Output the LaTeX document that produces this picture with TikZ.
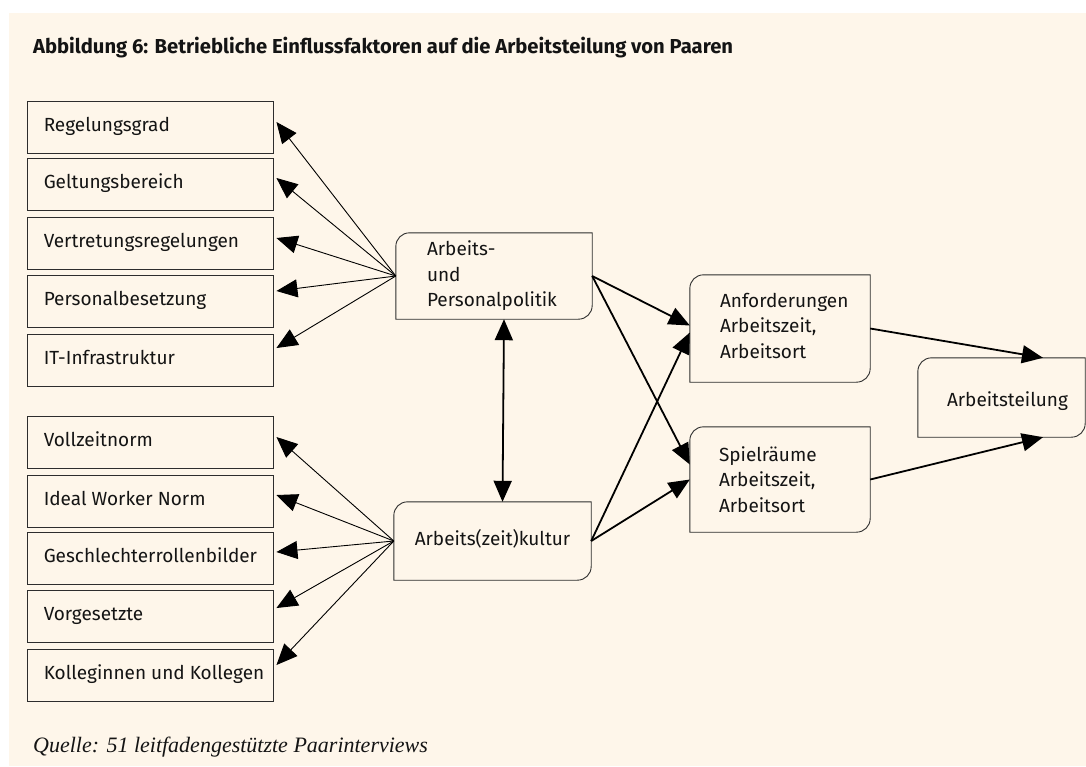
\documentclass[tikz,border=0pt]{standalone}
\usepackage{fontspec}
\setmainfont{Fira Sans}
\newfontfamily\quellefont{Liberation Serif}
\usetikzlibrary{arrows.meta,calc}
\definecolor{bgcream}{RGB}{254,246,234}
\definecolor{linegray}{RGB}{45,45,45}
\definecolor{textblack}{RGB}{20,20,20}
\newcommand\softbox[1]{%
  \draw[boxline] (#1.north east) -- ([yshift=14pt]#1.south east)
    .. controls ([yshift=6pt]#1.south east) and ([xshift=-6pt]#1.south east) .. ([xshift=-14pt]#1.south east)
    -- (#1.south west) -- ([yshift=-14pt]#1.north west)
    .. controls ([yshift=-6pt]#1.north west) and ([xshift=6pt]#1.north west) .. ([xshift=14pt]#1.north west) -- cycle;}
\begin{document}
\begin{tikzpicture}[x=1pt,y=-1pt,
  bodyfont/.style={font=\fontsize{19}{25.5}\selectfont},
  boxline/.style={draw=linegray, line width=0.9pt},
  sqbox/.style={boxline, fill=bgcream, inner sep=0pt, minimum width=246pt, minimum height=52pt},
  softshape/.style={inner sep=0pt},
  lefttext/.style={bodyfont, text=textblack, anchor=west, inner sep=0pt, text height=13pt, text depth=4pt},
  multitext/.style={bodyfont, text=textblack, anchor=west, inner sep=0pt, align=left},
  fanarrow/.style={line width=0.9pt, draw=black, -{Triangle[length=21pt,width=18pt]}},
  mainarrow/.style={line width=1.8pt, draw=black, -{Triangle[length=21pt,width=18pt]}},
  botharrow/.style={line width=1.8pt, draw=black, {Triangle[length=21pt,width=18pt]}-{Triangle[length=21pt,width=18pt]}}
]
\useasboundingbox (0,0) rectangle (1086,766);
\fill[white] (0,0) rectangle (1086,766);
\fill[bgcream] (9,13) rectangle (1086,766);

\node[anchor=base west, inner sep=0pt, text=textblack, font=\fontsize{20.2}{24}\selectfont\bfseries] (title) at (33,53)
  {Abbildung 6: Betriebliche Einflussfaktoren auf die Arbeitsteilung von Paaren};

% left boxes, upper group
\node[sqbox] (r1) at (150,127) {};
\node[sqbox] (r2) at (150,184) {};
\node[sqbox] (r3) at (150,243) {};
\node[sqbox] (r4) at (150,301) {};
\node[sqbox] (r5) at (150,360) {};
\node[lefttext] (r1t) at ([xshift=17pt]r1.west) {Regelungsgrad};
\node[lefttext] (r2t) at ([xshift=17pt]r2.west) {Geltungsbereich};
\node[lefttext] (r3t) at ([xshift=17pt]r3.west) {Vertretungsregelungen};
\node[lefttext] (r4t) at ([xshift=17pt]r4.west) {Personalbesetzung};
\node[lefttext] (r5t) at ([xshift=17pt]r5.west) {IT-Infrastruktur};

% left boxes, lower group
\node[sqbox] (l1) at (150,442) {};
\node[sqbox] (l2) at (150,501) {};
\node[sqbox] (l3) at (150,558) {};
\node[sqbox] (l4) at (150,616) {};
\node[sqbox] (l5) at (150,675) {};
\node[lefttext] (l1t) at ([xshift=17pt]l1.west) {Vollzeitnorm};
\node[lefttext] (l2t) at ([xshift=17pt]l2.west) {Ideal Worker Norm};
\node[lefttext] (l3t) at ([xshift=17pt]l3.west) {Geschlechterrollenbilder};
\node[lefttext] (l4t) at ([xshift=17pt]l4.west) {Vorgesetzte};
\node[lefttext] (l5t) at ([xshift=17pt]l5.west) {Kolleginnen und Kollegen};

% rounded boxes
\node[softshape, minimum width=196pt, minimum height=86pt] (ap) at (494,276) {};
\node[softshape, minimum width=197pt, minimum height=78pt] (ku) at (492.5,541) {};
\node[softshape, minimum width=180pt, minimum height=107pt] (an) at (780,328.5) {};
\node[softshape, minimum width=180pt, minimum height=105pt] (sp) at (780,479.5) {};
\node[softshape, minimum width=167pt, minimum height=79pt] (at) at (1001.5,397.5) {};
\softbox{ap}
\softbox{ku}
\softbox{an}
\softbox{sp}
\softbox{at}

\node[multitext] (apt) at ([xshift=31pt]ap.west) {Arbeits-\\und\\Personalpolitik};
\node[lefttext, anchor=center] (kut) at (ku.center) {Arbeits(zeit)kultur};
\node[multitext] (ant) at ([xshift=30pt,yshift=3pt]an.west) {Anforderungen\\Arbeitszeit,\\Arbeitsort};
\node[multitext] (spt) at ([xshift=29pt]sp.west) {Spielräume\\Arbeitszeit,\\Arbeitsort};
\node[lefttext] (att) at ([xshift=29pt,yshift=-4pt]at.west) {Arbeitsteilung};

% fan arrows
\draw[fanarrow] (ap.west) -- ([xshift=3pt,yshift=5pt]r1.east);
\draw[fanarrow] (ap.west) -- ([xshift=3pt,yshift=6pt]r2.east);
\draw[fanarrow] (ap.west) -- ([xshift=3pt,yshift=5pt]r3.east);
\draw[fanarrow] (ap.west) -- ([xshift=3pt,yshift=10pt]r4.east);
\draw[fanarrow] (ap.west) -- ([xshift=3pt,yshift=12pt]r5.east);
\draw[fanarrow] (ku.west) -- ([xshift=3pt,yshift=5pt]l1.east);
\draw[fanarrow] (ku.west) -- ([xshift=3pt,yshift=6pt]l2.east);
\draw[fanarrow] (ku.west) -- ([xshift=3pt,yshift=6pt]l3.east);
\draw[fanarrow] (ku.west) -- ([xshift=3pt,yshift=8pt]l4.east);
\draw[fanarrow] (ku.west) -- ([xshift=3pt,yshift=10pt]l5.east);

% main arrows
\draw[botharrow] ([xshift=10pt]ap.south) -- ([xshift=10pt]ku.north);
\draw[mainarrow] (ap.east) -- ([yshift=3pt]an.west);
\draw[mainarrow] (ap.east) -- ([yshift=15pt]sp.west);
\draw[mainarrow] (ku.east) -- ([yshift=-4pt]an.west);
\draw[mainarrow] (ku.east) -- (sp.west);
\draw[mainarrow] (an.east) -- ([xshift=41.5pt]at.north);
\draw[mainarrow] (sp.east) -- ([xshift=41.5pt]at.south);

\node[anchor=base west, inner sep=0pt, text=textblack, font=\quellefont\itshape\fontsize{22}{26}\selectfont] (quelle) at (33,752)
  {Quelle: 51 leitfadengestützte Paarinterviews};
\end{tikzpicture}
\end{document}
